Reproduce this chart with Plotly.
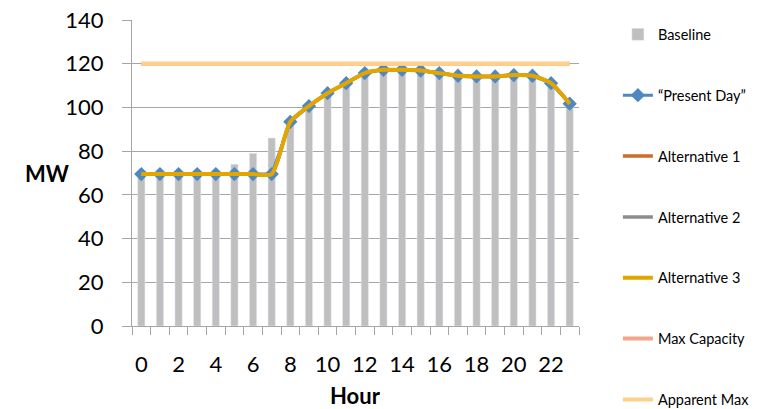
import plotly.graph_objects as go

hours = list(range(24))
baseline = [69.5, 69.5, 69.5, 69.5, 69.5, 74, 79, 86, 93, 100, 106.5, 111, 115.5, 117, 117,
            116.9, 115.5, 114.5, 114, 114, 114.8, 114.5, 111, 101.5]
present_day = [69.5, 69.5, 69.5, 69.5, 69.5, 69.5, 69.5, 69.5, 93.4, 100.6, 106.5, 111.1,
               115.7, 117.2, 117.2, 116.9, 115.7, 114.5, 114.2, 114.2, 114.8, 114.5, 111.1, 101.7]
alternative_1 = present_day
alternative_2 = present_day
alternative_3 = present_day
max_capacity = [120] * 24
apparent_max = [120] * 24
x_tick_vals = list(range(0, 24, 2))
y_tick_vals = list(range(0, 141, 20))

FONT = "Lato"
GRID = "#A6A6A6"

fig = go.Figure()
fig.add_trace(go.Bar(x=hours, y=baseline, name="Baseline", marker_color="#BFBFBF",
                     width=0.39, legendgroup="a"))
fig.add_trace(go.Scatter(x=hours, y=present_day, name="\u201cPresent Day\u201d", mode="lines+markers",
                         line=dict(color="#4F87C1", width=3),
                         marker=dict(symbol="diamond", size=11, color="#4F87C1"), legendgroup="b"))
fig.add_trace(go.Scatter(x=hours, y=alternative_1, name="Alternative 1", mode="lines",
                         line=dict(color="#D0692A", width=3.5, shape="spline", smoothing=0.6), legendgroup="c"))
fig.add_trace(go.Scatter(x=hours, y=alternative_2, name="Alternative 2", mode="lines",
                         line=dict(color="#8C8C8C", width=3.5, shape="spline", smoothing=0.6), legendgroup="d"))
fig.add_trace(go.Scatter(x=hours, y=alternative_3, name="Alternative 3", mode="lines",
                         line=dict(color="#E2A600", width=4, shape="spline", smoothing=0.6), legendgroup="e"))
fig.add_trace(go.Scatter(x=hours, y=max_capacity, name="Max Capacity", mode="lines",
                         line=dict(color="#F2A589", width=4), legendgroup="f"))
fig.add_trace(go.Scatter(x=hours, y=apparent_max, name="Apparent Max", mode="lines",
                         line=dict(color="#FFD08A", width=4), legendgroup="g"))

fig.update_layout(
    width=761, height=409,
    margin=dict(l=132, r=182, t=20, b=83, autoexpand=False),
    paper_bgcolor="white", plot_bgcolor="white",
    font=dict(family=FONT, color="black"),
    showlegend=True,
    legend=dict(x=1.087, xanchor="left", y=0.955, yanchor="top", yref="container",
                traceorder="grouped", maxheight=1.0,
                tracegroupgap=39, font=dict(size=14.5, family=FONT), bgcolor="rgba(0,0,0,0)"),
    xaxis=dict(range=[-0.5, 23.5], tickvals=x_tick_vals, ticks="outside", ticklen=8,
               tickcolor="rgba(0,0,0,0)", tickfont=dict(size=22), ticklabelstandoff=11,
               showgrid=False, showline=True, linecolor=GRID, linewidth=1, zeroline=False,
               minor=dict(ticks="outside", tick0=-0.5, dtick=1, ticklen=8, tickcolor=GRID,
                          showgrid=False)),
    yaxis=dict(range=[0, 140], tickvals=y_tick_vals, ticks="outside", ticklen=9, tickcolor=GRID,
               tickfont=dict(size=22), ticklabelstandoff=14,
               showgrid=True, gridcolor=GRID, gridwidth=1,
               showline=True, linecolor=GRID, linewidth=1, zeroline=False),
    annotations=[
        dict(text="<b>MW</b>", x=-0.19, y=0.5, xref="paper", yref="paper", showarrow=False,
             font=dict(size=22, family=FONT), xanchor="center", yanchor="middle"),
        dict(text="<b>Hour</b>", x=0.5, y=-0.226, xref="paper", yref="paper", showarrow=False,
             font=dict(size=22, family=FONT), xanchor="center", yanchor="middle"),
    ],
)

fig.write_html("out.html", config={"displayModeBar": False},
               post_script="document.body.style.margin='0';")
